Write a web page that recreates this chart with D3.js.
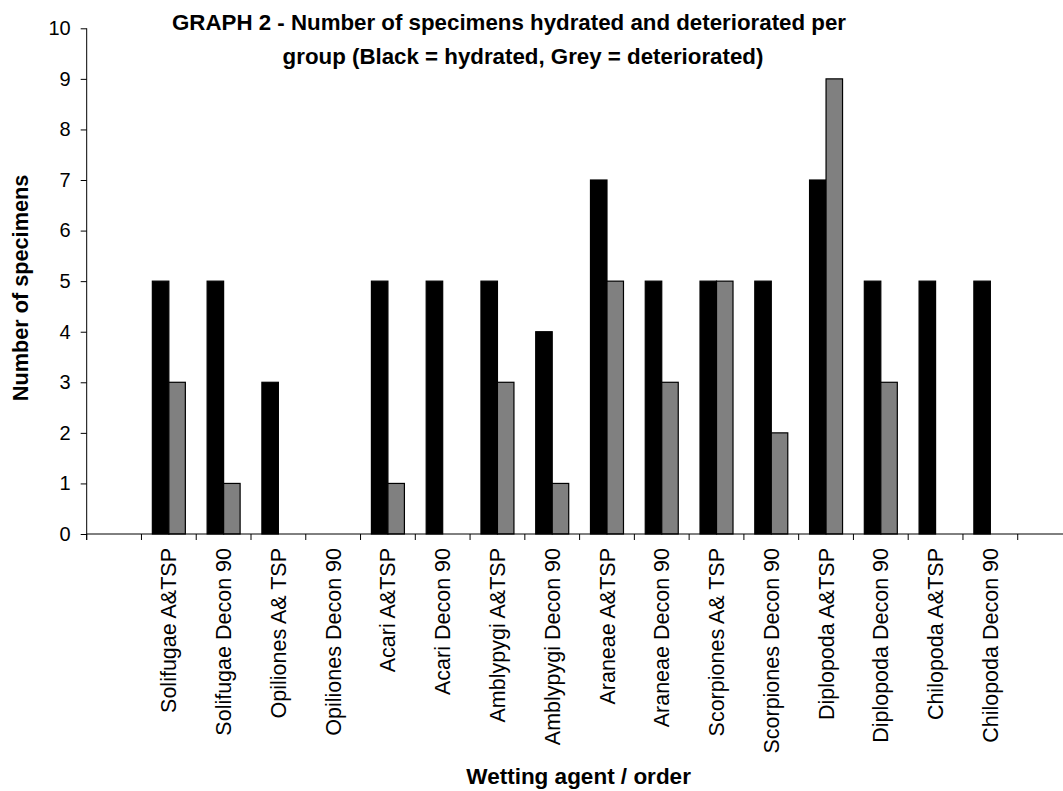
<!DOCTYPE html>
<html>
<head>
<meta charset="utf-8">
<script src="https://cdn.jsdelivr.net/npm/d3@7"></script>
<style>
  body { margin: 0; background: #fff; }
  svg { display: block; font-family: Arial, "Liberation Sans", sans-serif; }
</style>
</head>
<body>
<svg id="chart" width="1063" height="791"></svg>
<script>
// categories along the x axis (first and last slots are empty in the original)
const categories = [
    "Solifugae A&TSP", "Solifugae Decon 90", "Opiliones A& TSP", "Opiliones Decon 90",
    "Acari A&TSP", "Acari Decon 90", "Amblypygi A&TSP", "Amblypygi Decon 90",
    "Araneae A&TSP", "Araneae Decon 90", "Scorpiones A& TSP", "Scorpiones Decon 90",
    "Diplopoda A&TSP", "Diplopoda Decon 90", "Chilopoda A&TSP", "Chilopoda Decon 90"
];
const hydrated     = [5, 5, 3, 0, 5, 5, 5, 4, 7, 5, 5, 5, 7, 5, 5, 5];
const deteriorated = [3, 1, 0, 0, 1, 0, 3, 1, 5, 3, 5, 2, 9, 3, 0, 0];
const series = ["hydrated", "deteriorated"];
const seriesColors = ["#000000", "#808080"];
const yTicks = [0, 1, 2, 3, 4, 5, 6, 7, 8, 9, 10];
const titleLines = [
    "GRAPH 2 - Number of specimens hydrated and deteriorated per",
    "group (Black = hydrated, Grey = deteriorated)"
];

const svg = d3.select("#chart");

const plotLeft = 86.7, plotRight = 1072.5, plotTop = 28.3, plotBottom = 534;

// blank slot before and after the categories
const slots = ["_start", ...categories, "_end"];
const x = d3.scaleBand().domain(slots).range([plotLeft, plotRight]).padding(0);
const x1 = d3.scaleBand().domain(series).range([0, x.bandwidth()]).paddingInner(0).paddingOuter(0.66);
const y = d3.scaleLinear().domain([0, 10]).range([plotBottom, plotTop]);

const rows = categories.map((c, i) => ({ cat: c, values: [hydrated[i], deteriorated[i]] }));

// bars
const groups = svg.append("g").selectAll("g")
    .data(rows)
    .join("g")
    .attr("transform", d => `translate(${x(d.cat)},0)`);

groups.selectAll("rect")
    .data(d => d.values.map((v, k) => ({ key: series[k], value: v, k: k })).filter(e => e.value > 0))
    .join("rect")
    .attr("x", d => x1(d.key))
    .attr("y", d => y(d.value))
    .attr("width", x1.bandwidth())
    .attr("height", d => y(0) - y(d.value))
    .attr("fill", d => seriesColors[d.k])
    .attr("stroke", "#000")
    .attr("stroke-width", 1.2);

// y axis
const yAxis = svg.append("g")
    .attr("transform", `translate(${plotLeft},0)`)
    .call(d3.axisLeft(y).tickValues(yTicks).tickSize(6).tickPadding(10).tickSizeOuter(0));
yAxis.select(".domain").remove();
yAxis.selectAll("text").attr("font-size", 20).attr("fill", "#000").attr("font-family", "Arial, 'Liberation Sans', sans-serif");
yAxis.selectAll("line").attr("stroke", "#000");
svg.append("line")
    .attr("x1", plotLeft).attr("x2", plotLeft)
    .attr("y1", y(10)).attr("y2", plotBottom + 6)
    .attr("stroke", "#000");

// x axis line and slot boundary ticks
svg.append("line")
    .attr("x1", plotLeft).attr("x2", plotRight)
    .attr("y1", plotBottom).attr("y2", plotBottom)
    .attr("stroke", "#000");
const boundaries = slots.map(s => x(s)).concat([plotRight]);
svg.append("g").selectAll("line")
    .data(boundaries)
    .join("line")
    .attr("x1", d => d).attr("x2", d => d)
    .attr("y1", plotBottom).attr("y2", plotBottom + 6)
    .attr("stroke", "#000");

// category labels, rotated
svg.append("g").selectAll("text")
    .data(categories)
    .join("text")
    .attr("transform", d => `translate(${x(d) + x.bandwidth() / 2},${plotBottom + 14}) rotate(-90)`)
    .attr("text-anchor", "end")
    .attr("dy", "0.35em")
    .attr("font-size", 21.5)
    .attr("fill", "#000")
    .text(d => d);

// title
svg.append("text")
    .attr("x", 509).attr("y", 30)
    .attr("text-anchor", "middle")
    .attr("font-size", 22.3).attr("font-weight", "bold")
    .text(titleLines[0]);
svg.append("text")
    .attr("x", 523).attr("y", 63.5)
    .attr("text-anchor", "middle")
    .attr("font-size", 22.3).attr("font-weight", "bold")
    .text(titleLines[1]);

// axis titles
svg.append("text")
    .attr("transform", `translate(28.3,288) rotate(-90)`)
    .attr("text-anchor", "middle")
    .attr("font-size", 21.7).attr("font-weight", "bold")
    .text("Number of specimens");

svg.append("text")
    .attr("x", (plotLeft + plotRight) / 2 - 1).attr("y", 784)
    .attr("text-anchor", "middle")
    .attr("font-size", 22.5).attr("font-weight", "bold")
    .text("Wetting agent / order");
</script>
</body>
</html>
